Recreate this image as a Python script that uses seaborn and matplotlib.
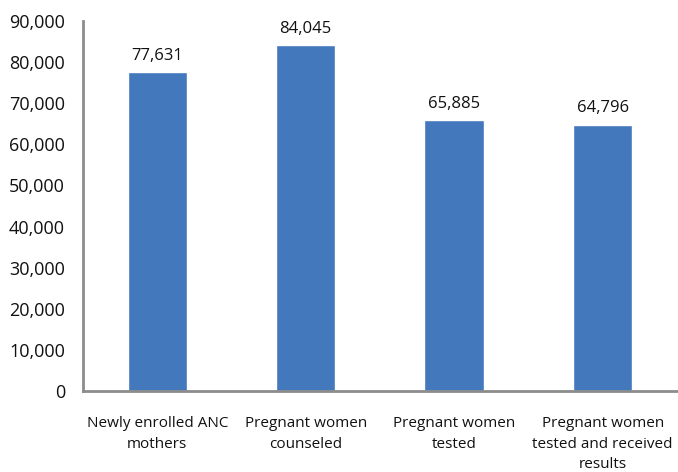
import matplotlib
matplotlib.use("Agg")
import matplotlib.pyplot as plt
import seaborn as sns
import pandas as pd
from matplotlib.ticker import FuncFormatter

categories = [
    "Newly enrolled ANC\nmothers",
    "Pregnant women\ncounseled",
    "Pregnant women\ntested",
    "Pregnant women\ntested and received\nresults",
]
values = [77631, 84045, 65885, 64796]
y_ticks = [0, 10000, 20000, 30000, 40000, 50000, 60000, 70000, 80000, 90000]

sns.set_theme(style="white")
plt.rcParams["font.family"] = ["Open Sans", "DejaVu Sans"]

df = pd.DataFrame({"category": categories, "value": values})

fig = plt.figure(figsize=(6.78, 4.72), dpi=100)
ax = fig.add_axes([0.1224, 0.1716, 0.876, 0.784])

sns.barplot(data=df, x="category", y="value", color="#4379BC", width=0.4,
            saturation=1, ax=ax)

ax.set_xlim(-0.5, 3.5)
ax.set_ylim(0, 90000)
ax.set_yticks(y_ticks)
ax.yaxis.set_major_formatter(FuncFormatter(lambda v, p: f"{int(v):,}"))
ax.tick_params(axis="y", labelsize=13, length=0, pad=13, labelcolor="#111111")
ax.tick_params(axis="x", labelsize=11, length=0, pad=18, labelcolor="#111111")
for lbl in ax.get_xticklabels():
    lbl.set_linespacing(1.5)
ax.set_xlabel("")
ax.set_ylabel("")

for side in ["top", "right"]:
    ax.spines[side].set_visible(False)
for side in ["left", "bottom"]:
    ax.spines[side].set_color("#8C8C8C")
    ax.spines[side].set_linewidth(2)

for i, v in enumerate(values):
    ax.text(i, v + 2000, f"{v:,}", ha="center", va="bottom", fontsize=12,
            color="#111111")

fig.savefig("out.png", dpi=100)
